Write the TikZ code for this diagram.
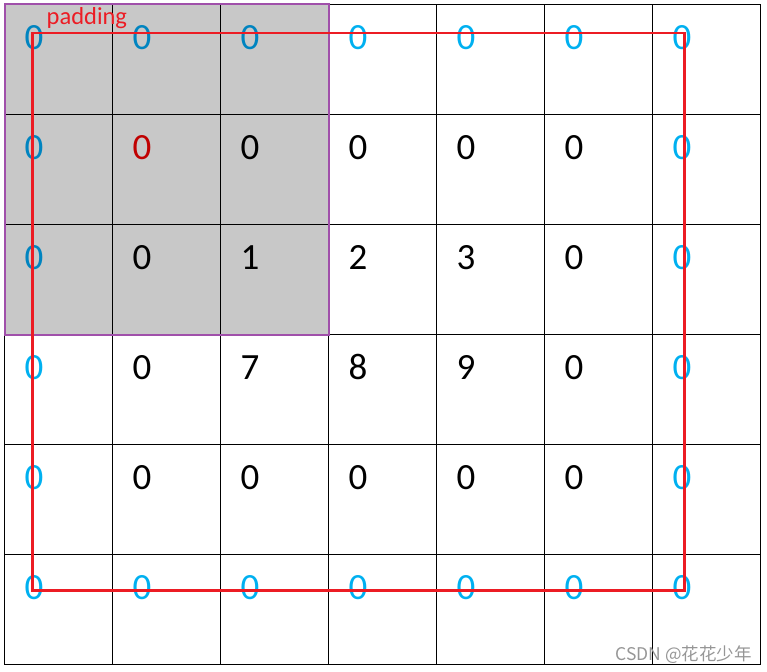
\documentclass[tikz,border=0pt]{standalone}
\usepackage{fontspec}
\setmainfont{Carlito}
\newfontfamily\cjkwm{Noto Sans CJK SC}
\definecolor{padblue}{RGB}{0,176,240}
\definecolor{padbluedk}{RGB}{0,132,192}
\definecolor{numred}{RGB}{192,0,0}
\definecolor{linered}{RGB}{236,28,36}
\definecolor{winpurple}{RGB}{160,80,170}
\definecolor{wingray}{RGB}{200,200,200}
\definecolor{wmgray}{RGB}{150,150,150}
\tikzset{
  num/.style={anchor=base, inner sep=0pt, font=\fontsize{37}{37}\selectfont},
  pad/.style={num, text=padblue},
  padin/.style={num, text=padbluedk},
  val/.style={num, text=black},
  hot/.style={num, text=numred},
  gridline/.style={draw=black, line width=0.9pt},
}
\begin{document}
\begin{tikzpicture}[x=1pt,y=-1pt]
\useasboundingbox (0,0) rectangle (767,671);
% window fill
\fill[wingray] (4.5,4.5) rectangle (328.5,334.5);
% grid
\foreach \i in {0,...,7} {
  \draw[gridline] ({4.5+108*\i},4.5) -- ({4.5+108*\i},664.5);
}
\foreach \j in {0,...,6} {
  \draw[gridline] (4.5,{4.5+110*\j}) -- (760.5,{4.5+110*\j});
}
% window border
\draw[winpurple, line width=2pt] (4.5,4.5) rectangle (328.5,334.5);
% numbers: style per cell
\foreach \r/\c/\v/\s in {
  0/0/0/padin, 0/1/0/padin, 0/2/0/padin, 0/3/0/pad, 0/4/0/pad, 0/5/0/pad, 0/6/0/pad,
  1/0/0/padin, 1/1/0/hot, 1/2/0/val, 1/3/0/val, 1/4/0/val, 1/5/0/val, 1/6/0/pad,
  2/0/0/padin, 2/1/0/val, 2/2/1/val, 2/3/2/val, 2/4/3/val, 2/5/0/val, 2/6/0/pad,
  3/0/0/pad, 3/1/0/val, 3/2/7/val, 3/3/8/val, 3/4/9/val, 3/5/0/val, 3/6/0/pad,
  4/0/0/pad, 4/1/0/val, 4/2/0/val, 4/3/0/val, 4/4/0/val, 4/5/0/val, 4/6/0/pad,
  5/0/0/pad, 5/1/0/pad, 5/2/0/pad, 5/3/0/pad, 5/4/0/pad, 5/5/0/pad, 5/6/0/pad} {
  \node[\s] (n\r\c) at ({34+108*\c},{49.5+110*\r}) {\v};
}
% padding boundary
\draw[linered, line width=2.2pt] (32.5,33) rectangle (684.5,590.5);
\node[anchor=base west, inner sep=0pt, text=linered, font=\fontsize{24.5}{24.5}\selectfont] (padlabel) at (46.5,25) {padding};
% watermark
\node[anchor=base east, inner sep=0pt, text=wmgray, font=\cjkwm\fontsize{17.5}{17.5}\selectfont] (wm) at (752,660) {CSDN @花花少年};
\end{tikzpicture}
\end{document}
